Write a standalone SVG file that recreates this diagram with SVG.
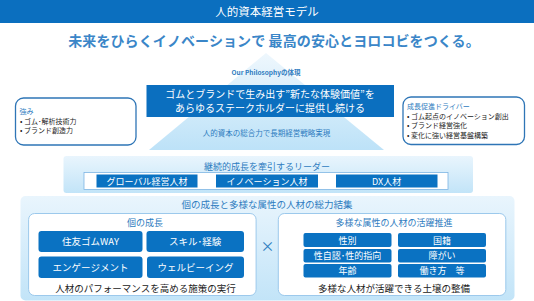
<svg xmlns="http://www.w3.org/2000/svg" width="534" height="301" viewBox="0 0 534 301">
<defs>
<linearGradient id="gTri" x1="0" y1="0" x2="0" y2="1"><stop offset="0" stop-color="#EEF7FD"/><stop offset="1" stop-color="#BDE2F8"/></linearGradient>
<linearGradient id="gBand" x1="0" y1="0" x2="0" y2="1"><stop offset="0" stop-color="#E9F5FD"/><stop offset="1" stop-color="#C2E4F8"/></linearGradient>
<style>
text{font-family:"Noto Sans CJK JP","Noto Sans",sans-serif;}
.c{text-anchor:middle;}
.blue{fill:#2E7CC0;}
.w{fill:#FFFFFF;}
.k{fill:#222222;}
.btn{fill:#0A72C2;}
.card{fill:#FFFFFF;stroke:#2E75B6;stroke-width:1.3;}
.inner{fill:#FFFFFF;stroke:#9CC9EC;stroke-width:1;}
</style>
</defs>
<g id="header">
<rect x="0" y="0" width="534" height="23" fill="#0B6FBF"/>
<text x="267" y="16" class="c w" font-size="11.5">人的資本経営モデル</text>
</g>
<g id="slogan">
<text x="274" y="46" class="c" font-size="14" font-weight="bold" fill="#3A86C8" font-family="'Noto Serif CJK JP','Noto Sans CJK JP',serif" letter-spacing="0.1">未来をひらくイノベーションで 最高の安心とヨロコビをつくる。</text>
</g>
<g id="pyramid">
<polygon points="266,53 384,150 149,150" fill="url(#gTri)"/>
<text x="266" y="75" class="c blue" font-size="6.5" font-weight="bold">Our Philosophyの体現</text>
<rect x="146.5" y="85" width="247.5" height="32" fill="#0B6FBF"/>
<text x="270" y="97.5" class="c w" font-size="10">ゴムとブランドで生み出す”新たな体験価値”を</text>
<text x="270" y="111.5" class="c w" font-size="10">あらゆるステークホルダーに提供し続ける</text>
<text x="266.5" y="135.5" class="c blue" font-size="7.5">人的資本の総合力で長期経営戦略実現</text>
</g>
<g id="strengths">
<rect x="15.5" y="98" width="120.5" height="47" rx="8" class="card"/>
<text x="19.5" y="114" class="blue" font-size="7">強み</text>
<text x="20" y="123.5" class="k" font-size="7">•  ゴム･解析技術力</text>
<text x="20" y="133" class="k" font-size="7">•  ブランド創造力</text>
</g>
<g id="drivers">
<rect x="403" y="97" width="121.5" height="47.5" rx="8" class="card"/>
<text x="407" y="109" class="blue" font-size="7">成長促進ドライバー</text>
<text x="407" y="118.5" class="k" font-size="7">•  ゴム起点のイノベーション創出</text>
<text x="407" y="128" class="k" font-size="7">•  ブランド経営強化</text>
<text x="407" y="137.5" class="k" font-size="7">•  変化に強い経営基盤構築</text>
</g>
<g id="leaders">
<rect x="63.5" y="156" width="409.5" height="37" rx="3" fill="url(#gBand)"/>
<text x="267" y="169.5" class="c blue" font-size="9">継続的成長を牽引するリーダー</text>
<rect x="84" y="172.5" width="364" height="17" fill="#FFFFFF" stroke="#7DB5E3" stroke-width="0.8"/>
<rect x="96.5" y="174.5" width="101" height="13" class="btn"/>
<text x="147" y="184.5" class="c w" font-size="9">グローバル経営人材</text>
<rect x="216" y="174.5" width="102" height="13" class="btn"/>
<text x="267" y="184.5" class="c w" font-size="9">イノベーション人材</text>
<rect x="336" y="174.5" width="101.5" height="13" class="btn"/>
<text x="386.7" y="184.5" class="c w" font-size="9">DX人材</text>
</g>
<g id="collective">
<rect x="20.5" y="196" width="494" height="104.5" rx="5" fill="url(#gBand)"/>
<text x="267" y="208" class="c blue" font-size="9.5">個の成長と多様な属性の人材の総力結集</text>
</g>
<g id="individual">
<rect x="28.6" y="213.5" width="227.5" height="82" rx="6" class="inner"/>
<text x="145" y="225.5" class="c blue" font-size="9">個の成長</text>
<rect x="38.5" y="231" width="104" height="21" rx="3" class="btn"/>
<text x="90.5" y="245" class="c w" font-size="9.5">住友ゴムWAY</text>
<rect x="146.5" y="231" width="97.5" height="21" rx="3" class="btn"/>
<text x="195.2" y="245" class="c w" font-size="9.5">スキル･経験</text>
<rect x="38.5" y="256.5" width="104" height="21.5" rx="3" class="btn"/>
<text x="90.5" y="270.5" class="c w" font-size="9.5">エンゲージメント</text>
<rect x="147" y="256.5" width="97" height="21.5" rx="3" class="btn"/>
<text x="195.5" y="270.5" class="c w" font-size="9.5">ウェルビーイング</text>
<text x="145.5" y="292" class="c k" font-size="9.5">人材のパフォーマンスを高める施策の実行</text>
</g>
<g id="times">
<text x="267.5" y="250.5" class="c" font-size="14" fill="#2E7CC0">×</text>
</g>
<g id="diversity">
<rect x="278.3" y="213.5" width="227.5" height="82" rx="6" class="inner"/>
<text x="394" y="226" class="c blue" font-size="9">多様な属性の人材の活躍推進</text>
<rect x="303.5" y="233" width="88" height="14" rx="2" class="btn"/>
<text x="347.5" y="243.5" class="c w" font-size="9">性別</text>
<rect x="398" y="233" width="88" height="14" rx="2" class="btn"/>
<text x="442" y="243.5" class="c w" font-size="9">国籍</text>
<rect x="303.5" y="249" width="88" height="13.5" rx="2" class="btn"/>
<text x="347.5" y="259.2" class="c w" font-size="9">性自認･性的指向</text>
<rect x="398" y="249" width="88" height="13.5" rx="2" class="btn"/>
<text x="442" y="259.2" class="c w" font-size="9">障がい</text>
<rect x="303.5" y="264" width="88" height="13.5" rx="2" class="btn"/>
<text x="347.5" y="274.2" class="c w" font-size="9">年齢</text>
<rect x="398" y="264" width="88" height="13.5" rx="2" class="btn"/>
<text x="442" y="274.2" class="c w" font-size="9">働き方　等</text>
<text x="394" y="292" class="c k" font-size="9.5">多様な人材が活躍できる土壌の整備</text>
</g>
<g id="connectors"></g>
</svg>
